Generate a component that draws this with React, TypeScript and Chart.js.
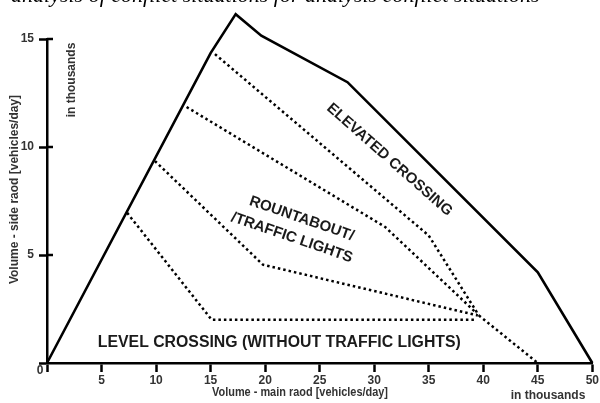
import { useEffect, useRef } from 'react';
import { Chart, registerables } from 'chart.js';

Chart.register(...registerables);

// ---- data (thousands of vehicles/day) ----
const xTickValues = [0, 5, 10, 15, 20, 25, 30, 35, 40, 45, 50];
const yTickValues = [0, 5, 10, 15];

// outer boundary (solid)
const outerX = [0, 15.0, 17.3, 19.65, 27.55, 45.0, 50];
const outerY = [0, 14.35, 16.15, 15.15, 13.0, 4.2, 0];

// level crossing boundary (dotted)
const levelX = [7.35, 15.1, 39.3];
const levelY = [6.95, 2.0, 2.0];

// roundabout lower boundary (dotted)
const roundLowX = [9.9, 19.8, 39.5];
const roundLowY = [9.35, 4.55, 2.2];

// roundabout upper boundary (dotted)
const roundHighX = [12.8, 31.0, 39.4];
const roundHighY = [11.85, 6.3, 2.3];

// elevated crossing boundary (dotted)
const elevX = [15.4, 35.0, 39.6];
const elevY = [14.3, 5.9, 2.2];

// tail to main axis (dotted)
const tailX = [39.6, 45];
const tailY = [2.2, 0];

const regionText = ['ELEVATED CROSSING', 'ROUNTABOUT/', '/TRAFFIC LIGHTS', 'LEVEL CROSSING (WITHOUT TRAFFIC LIGHTS)'];
const regionAtX = [31.4, 23.35, 22.45, 21.3];
const regionAtY = [9.41, 6.68, 5.8, 0.94];

const xTitle = 'Volume - main raod [vehicles/day]';
const yTitle = 'Volume - side raod [vehicles/day]';
const unitText = 'in thousands';
const headerText = 'r analysis of conflict situations for analysis conflict situations';

const pts = (xs: number[], ys: number[]) => xs.map((x, i) => ({ x, y: ys[i] }));

const dotted = (xs: number[], ys: number[]) => ({
  data: pts(xs, ys),
  showLine: true,
  borderColor: '#000',
  borderWidth: 2.5,
  borderDash: [2.5, 3],
  borderCapStyle: 'butt' as const,
  pointRadius: 0,
  tension: 0,
  clip: false as const,
});

const labelStyle = [
  { angle: 41.5, size: 15, width: 163 },
  { angle: 19, size: 15, width: 118 },
  { angle: 19, size: 15, width: 130 },
  { angle: 0, size: 16, width: 363 },
];

const overlay = {
  id: 'overlay',
  afterDraw(chart: any) {
    const { ctx, chartArea, scales } = chart;
    const xs = scales.x;
    const ys = scales.y;
    ctx.save();
    // inward parts of y ticks
    ctx.strokeStyle = '#000';
    ctx.lineWidth = 2.5;
    for (const v of yTickValues) {
      if (v === 0) continue;
      const py = Math.round(ys.getPixelForValue(v));
      ctx.beginPath();
      ctx.moveTo(chartArea.left, py);
      ctx.lineTo(chartArea.left + 6, py);
      ctx.stroke();
    }
    // origin label
    ctx.fillStyle = '#333';
    ctx.font = 'bold 12px "Liberation Sans", Arial, sans-serif';
    ctx.textAlign = 'center';
    ctx.textBaseline = 'middle';
    ctx.fillText(String(yTickValues[0]), chartArea.left - 7, chartArea.bottom + 8);

    // region labels
    ctx.fillStyle = '#1a1a1a';
    regionText.forEach((t, i) => {
      const st = labelStyle[i];
      const px = xs.getPixelForValue(regionAtX[i]);
      const py = ys.getPixelForValue(regionAtY[i]);
      ctx.save();
      ctx.translate(px, py);
      ctx.rotate((st.angle * Math.PI) / 180);
      ctx.font = `bold ${st.size}px "Liberation Sans", Arial, sans-serif`;
      ctx.textAlign = 'center';
      ctx.textBaseline = 'middle';
      ctx.fillText(t, 0, 0, st.width);
      ctx.restore();
    });

    // axis titles
    ctx.fillStyle = '#333';
    ctx.font = 'bold 12px "Liberation Sans", Arial, sans-serif';
    ctx.textAlign = 'center';
    ctx.textBaseline = 'middle';
    ctx.fillText(xTitle, 300, 393, 176);
    ctx.fillText(unitText, 548, 396, 77);
    ctx.save();
    ctx.translate(15, 189.5);
    ctx.rotate(-Math.PI / 2);
    ctx.fillText(yTitle, 0, 0, 195);
    ctx.restore();
    ctx.save();
    ctx.translate(72, 80);
    ctx.rotate(-Math.PI / 2);
    ctx.fillText(unitText, 0, 0, 77);
    ctx.restore();

    // cut-off caption at top
    ctx.fillStyle = '#000';
    ctx.font = 'italic 22px "Liberation Serif", "Times New Roman", serif';
    ctx.textAlign = 'left';
    ctx.textBaseline = 'alphabetic';
    ctx.fillText(headerText, -3, 2);
    ctx.restore();
  },
};

export default function App() {
  const ref = useRef<HTMLCanvasElement | null>(null);
  useEffect(() => {
    document.body.style.margin = '0';
    const canvas = ref.current;
    if (!canvas) return;
    const chart = new Chart(canvas, {
      type: 'scatter',
      data: {
        datasets: [
          {
            data: pts(outerX, outerY),
            showLine: true,
            borderColor: '#000',
            borderWidth: 2.6,
            borderJoinStyle: 'miter',
            pointRadius: 0,
            tension: 0,
            clip: false,
          } as any,
          dotted(levelX, levelY),
          dotted(roundLowX, roundLowY),
          dotted(roundHighX, roundHighY),
          dotted(elevX, elevY),
          dotted(tailX, tailY),
        ],
      },
      options: {
        responsive: false,
        animation: false,
        devicePixelRatio: 1,
        layout: { padding: { top: 39, right: 3, left: 0, bottom: 0 } },
        plugins: { legend: { display: false }, tooltip: { enabled: false }, title: { display: false } },
        scales: {
          x: {
            type: 'linear',
            min: 0,
            max: 50,
            afterBuildTicks: (s: any) => {
              s.ticks = xTickValues.map((v) => ({ value: v }));
            },
            afterFit: (s: any) => {
              s.height = 40;
            },
            ticks: {
              callback: (v: any) => (v === 0 ? '' : String(v)),
              color: '#333',
              font: { family: '"Liberation Sans", Arial, sans-serif', size: 12, weight: 'bold' },
              padding: 1,
              maxRotation: 0,
            },
            grid: { drawOnChartArea: false, drawTicks: true, tickLength: 9, tickColor: '#000', tickWidth: 2.5 },
            border: { display: true, color: '#000', width: 2.5 },
          },
          y: {
            type: 'linear',
            min: 0,
            max: 15,
            afterBuildTicks: (s: any) => {
              s.ticks = yTickValues.map((v) => ({ value: v }));
            },
            afterFit: (s: any) => {
              s.width = 47;
            },
            ticks: {
              callback: (v: any) => (v === 0 ? '' : String(v)),
              color: '#333',
              font: { family: '"Liberation Sans", Arial, sans-serif', size: 12, weight: 'bold' },
              padding: 5,
            },
            grid: { drawOnChartArea: false, drawTicks: true, tickLength: 8, tickColor: '#000', tickWidth: 2.5 },
            border: { display: true, color: '#000', width: 2.5 },
          },
        },
      } as any,
      plugins: [overlay],
    });
    return () => chart.destroy();
  }, []);
  return (
    <div style={{ position: 'fixed', left: 0, top: 0, width: 600, height: 403, background: '#fff' }}>
      <canvas ref={ref} width={600} height={403} style={{ display: 'block' }} />
    </div>
  );
}
